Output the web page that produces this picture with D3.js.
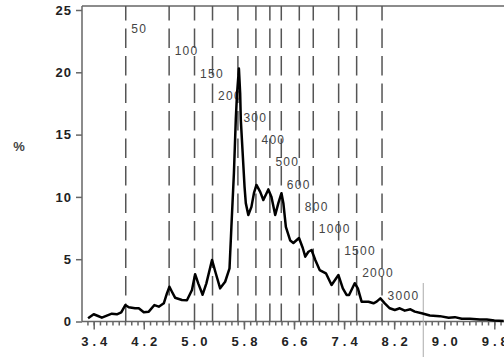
<!DOCTYPE html>
<html>
<head>
<meta charset="utf-8">
<script src="https://cdn.jsdelivr.net/npm/d3@7"></script>
<style>
  body { margin: 0; background: #fff; }
  svg { display: block; font-family: "Liberation Sans", Arial, sans-serif; }
  .axis path, .axis line { stroke: #666; stroke-width: 1.5; }
  .axis text { font-size: 13px; font-weight: bold; fill: #222; }
  .xaxis text { letter-spacing: 4px; }
  .yaxis text { letter-spacing: 1px; }
  .cut { stroke: #555; stroke-width: 1.5; stroke-dasharray: 19.5 8; stroke-dashoffset: 5; }
  .cutlabel { font-size: 12px; fill: #444; letter-spacing: 1.3px; }
</style>
</head>
<body>
<div id="chart"></div>
<script>
// log wage values and the share (%) at each point
const logWage = [3.31, 3.40, 3.47, 3.53, 3.61, 3.69, 3.77, 3.84, 3.905, 3.96, 4.06, 4.12, 4.20, 4.28, 4.37, 4.44, 4.52, 4.57, 4.61, 4.65, 4.70, 4.81, 4.89, 4.97, 5.02, 5.07, 5.14, 5.20, 5.29, 5.35, 5.42, 5.50, 5.57, 5.60, 5.64, 5.67, 5.69, 5.72, 5.74, 5.75, 5.78, 5.81, 5.83, 5.87, 5.92, 5.96, 6.00, 6.06, 6.11, 6.19, 6.24, 6.30, 6.35, 6.40, 6.43, 6.47, 6.54, 6.59, 6.68, 6.74, 6.78, 6.83, 6.88, 6.94, 7.01, 7.11, 7.20, 7.31, 7.38, 7.44, 7.48, 7.57, 7.62, 7.68, 7.79, 7.87, 7.92, 7.98, 8.05, 8.13, 8.21, 8.29, 8.37, 8.46, 8.53, 8.64, 8.77, 8.93, 9.07, 9.17, 9.28, 9.41, 9.57, 9.68, 9.80, 9.95];
const percent = [0.26, 0.58, 0.44, 0.31, 0.47, 0.63, 0.58, 0.74, 1.32, 1.14, 1.06, 1.06, 0.74, 0.79, 1.32, 1.19, 1.46, 2.26, 2.79, 2.39, 1.91, 1.73, 1.70, 2.53, 3.8, 3.06, 2.15, 3.06, 4.94, 3.87, 2.66, 3.19, 4.27, 7.6, 11.9, 16.2, 18.3, 20.3, 18.3, 16.2, 13.5, 10.8, 9.5, 8.55, 9.2, 10.3, 10.96, 10.4, 9.75, 10.6, 10.0, 8.55, 9.5, 10.3, 9.5, 7.6, 6.5, 6.3, 6.7, 5.9, 5.2, 5.6, 5.74, 4.94, 4.13, 3.87, 2.93, 3.73, 2.66, 2.13, 2.13, 3.07, 2.66, 1.59, 1.59, 1.46, 1.59, 1.86, 1.46, 1.06, 0.92, 1.06, 0.87, 0.98, 0.79, 0.66, 0.48, 0.43, 0.30, 0.35, 0.22, 0.22, 0.16, 0.16, 0.08, 0.04];

// reference wage levels drawn as dashed lines at ln(level)
const levels = [50, 100, 150, 200, 300, 400, 500, 600, 800, 1000, 1500, 2000, 3000];
const markerLog = 8.665;

const xTicks = [3.4, 4.2, 5.0, 5.8, 6.6, 7.4, 8.2, 9.0, 9.8];
const yTicks = [0, 5, 10, 15, 20, 25];

const width = 504;
const height = 357;
const padLeft = 82;
const padTop = 6;
const axisY = 321.5;

const x = d3.scaleLinear().domain([3.4, 9.8]).range([93.7, 494.3]);
const y = d3.scaleLinear().domain([0, 25]).range([axisY, 10]);

const svg = d3.select("#chart")
  .append("svg")
  .attr("width", width)
  .attr("height", height);

// top border
svg.append("line")
  .attr("x1", padLeft).attr("x2", width)
  .attr("y1", padTop).attr("y2", padTop)
  .attr("stroke", "#666").attr("stroke-width", 1.5);

// minor x ticks every 0.1
const minor = d3.range(33, 100).map(d => d / 10);
svg.append("g")
  .attr("class", "axis")
  .attr("transform", "translate(0," + axisY + ")")
  .call(d3.axisBottom(x).tickValues(minor).tickSize(4).tickFormat(""))
  .call(g => g.select(".domain").remove());

svg.append("g")
  .attr("class", "axis xaxis")
  .attr("transform", "translate(0," + axisY + ")")
  .call(d3.axisBottom(x).tickValues(xTicks).tickSize(8).tickPadding(7).tickFormat(d3.format(".1f")))
  .call(g => g.select(".domain").attr("d", "M" + padLeft + ",0H" + width))
  .call(g => g.selectAll(".tick text").attr("dx", 2));

svg.append("g")
  .attr("class", "axis yaxis")
  .attr("transform", "translate(" + padLeft + ",0)")
  .call(d3.axisLeft(y).tickValues(yTicks).tickSize(6).tickPadding(4))
  .call(g => g.select(".domain").attr("d", "M0," + padTop + "V" + axisY));

// dashed reference lines with labels
svg.selectAll(".cut")
  .data(levels)
  .enter()
  .append("line")
  .attr("class", "cut")
  .attr("x1", d => x(Math.log(d)))
  .attr("x2", d => x(Math.log(d)))
  .attr("y1", padTop)
  .attr("y2", axisY);

svg.selectAll(".cutlabel")
  .data(levels)
  .enter()
  .append("text")
  .attr("class", "cutlabel")
  .attr("x", d => x(Math.log(d)) + 5.5)
  .attr("y", (d, i) => 29 + 22.2 * i)
  .attr("dy", "0.35em")
  .text(d => d);

svg.append("line")
  .attr("x1", x(markerLog)).attr("x2", x(markerLog))
  .attr("y1", 283).attr("y2", height)
  .attr("stroke", "#aaa").attr("stroke-width", 1);

// the distribution
const line = d3.line()
  .x((d, i) => x(logWage[i]))
  .y(d => y(d));

svg.append("path")
  .datum(percent)
  .attr("d", line)
  .attr("fill", "none")
  .attr("stroke", "#000")
  .attr("stroke-width", 2.5)
  .attr("stroke-linejoin", "round");

svg.append("text")
  .attr("x", 19)
  .attr("y", 146)
  .attr("dy", "0.35em")
  .attr("text-anchor", "middle")
  .attr("font-size", 13)
  .attr("font-weight", "bold")
  .attr("fill", "#444")
  .text("%");
</script>
</body>
</html>
